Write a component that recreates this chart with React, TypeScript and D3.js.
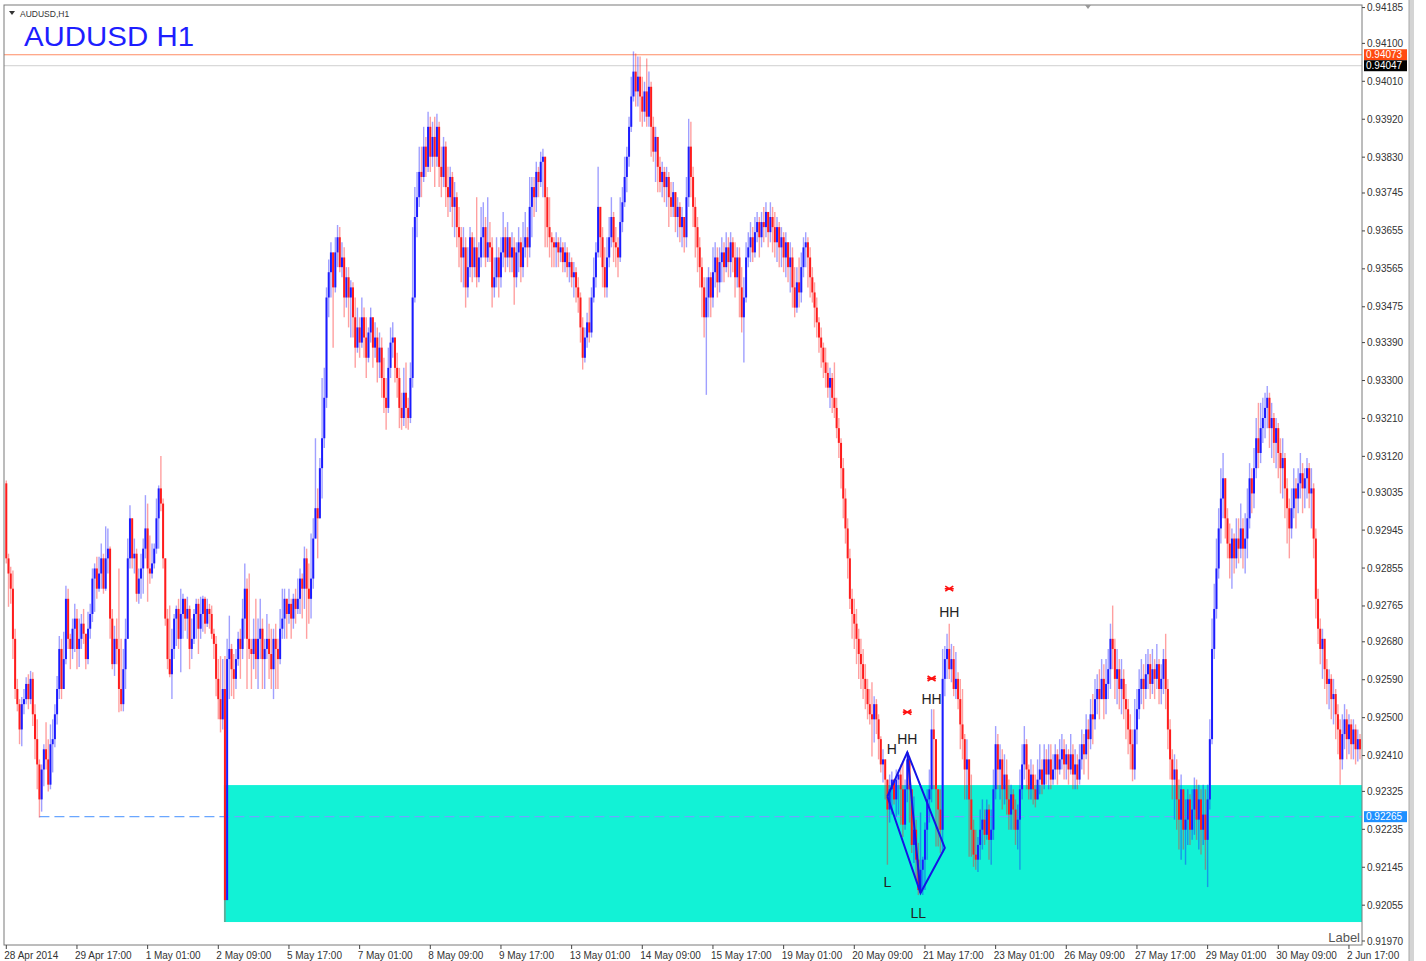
import React from "react";
import * as d3 from "d3";

// ---- data (AUDUSD H1, 28 Apr 2014 09:00 .. 2 Jun 2014) ----
const firstOpen = 0.93056;
const closes = [
0.92878,0.92842,0.92806,0.92687,0.92568,0.92532,0.92472,0.92532,0.92544,0.92580,
0.92544,0.92592,0.92508,0.92449,0.92389,0.92306,0.92377,0.92425,0.92401,0.92341,
0.92437,0.92449,0.92508,0.92568,0.92663,0.92568,0.92639,0.92782,0.92687,0.92663,
0.92711,0.92735,0.92663,0.92687,0.92723,0.92699,0.92639,0.92711,0.92746,0.92830,
0.92854,0.92806,0.92842,0.92878,0.92806,0.92878,0.92901,0.92735,0.92627,0.92687,
0.92663,0.92568,0.92532,0.92615,0.92687,0.92878,0.92973,0.92878,0.92889,0.92794,
0.92830,0.92854,0.92901,0.92949,0.92854,0.92842,0.92866,0.92901,0.92973,0.93044,
0.93008,0.92878,0.92735,0.92639,0.92603,0.92663,0.92735,0.92758,0.92687,0.92746,
0.92782,0.92735,0.92758,0.92663,0.92687,0.92746,0.92770,0.92711,0.92746,0.92782,
0.92723,0.92758,0.92746,0.92699,0.92675,0.92592,0.92544,0.92496,0.92568,0.92067,
0.92639,0.92663,0.92615,0.92592,0.92639,0.92687,0.92663,0.92735,0.92806,0.92687,
0.92663,0.92651,0.92687,0.92639,0.92687,0.92711,0.92639,0.92663,0.92687,0.92651,
0.92615,0.92687,0.92663,0.92639,0.92711,0.92735,0.92782,0.92746,0.92770,0.92735,
0.92782,0.92758,0.92782,0.92830,0.92806,0.92878,0.92806,0.92782,0.92830,0.92925,
0.92997,0.92973,0.93092,0.93163,0.93259,0.93497,0.93557,0.93604,0.93521,0.93604,
0.93640,0.93569,0.93592,0.93497,0.93545,0.93497,0.93521,0.93450,0.93378,0.93426,
0.93390,0.93450,0.93402,0.93354,0.93414,0.93450,0.93378,0.93402,0.93343,0.93378,
0.93306,0.93259,0.93235,0.93330,0.93390,0.93402,0.93330,0.93306,0.93235,0.93211,
0.93271,0.93235,0.93211,0.93306,0.93497,0.93688,0.93735,0.93795,0.93783,0.93855,
0.93807,0.93902,0.93831,0.93878,0.93831,0.93902,0.93807,0.93783,0.93855,0.93759,
0.93735,0.93783,0.93712,0.93735,0.93664,0.93640,0.93592,0.93616,0.93521,0.93569,
0.93640,0.93569,0.93616,0.93545,0.93592,0.93640,0.93664,0.93592,0.93628,0.93616,
0.93521,0.93545,0.93592,0.93545,0.93604,0.93640,0.93592,0.93640,0.93592,0.93616,
0.93545,0.93604,0.93628,0.93569,0.93616,0.93640,0.93616,0.93712,0.93759,0.93735,
0.93795,0.93771,0.93819,0.93831,0.93735,0.93664,0.93640,0.93628,0.93616,0.93628,
0.93604,0.93616,0.93581,0.93604,0.93569,0.93581,0.93545,0.93557,0.93521,0.93497,
0.93426,0.93354,0.93402,0.93438,0.93414,0.93497,0.93545,0.93604,0.93712,0.93640,
0.93569,0.93521,0.93592,0.93640,0.93688,0.93628,0.93616,0.93592,0.93676,0.93723,
0.93783,0.93831,0.93902,0.93974,0.94033,0.93986,0.94021,0.93974,0.93938,0.93986,
0.93926,0.93997,0.93902,0.93843,0.93878,0.93807,0.93771,0.93795,0.93759,0.93783,
0.93735,0.93712,0.93747,0.93688,0.93712,0.93664,0.93688,0.93640,0.93735,0.93855,
0.93783,0.93712,0.93664,0.93616,0.93569,0.93521,0.93450,0.93497,0.93545,0.93497,
0.93557,0.93592,0.93533,0.93581,0.93604,0.93569,0.93616,0.93581,0.93628,0.93592,
0.93545,0.93592,0.93521,0.93450,0.93497,0.93592,0.93616,0.93640,0.93604,0.93652,
0.93676,0.93640,0.93676,0.93664,0.93700,0.93652,0.93688,0.93664,0.93628,0.93664,
0.93616,0.93640,0.93592,0.93628,0.93569,0.93592,0.93521,0.93473,0.93533,0.93509,
0.93569,0.93616,0.93628,0.93592,0.93545,0.93509,0.93473,0.93438,0.93402,0.93378,
0.93343,0.93318,0.93283,0.93306,0.93259,0.93235,0.93187,0.93152,0.93092,0.93020,
0.92949,0.92878,0.92782,0.92746,0.92723,0.92687,0.92651,0.92627,0.92592,0.92568,
0.92532,0.92508,0.92496,0.92532,0.92496,0.92449,0.92389,0.92401,0.92353,0.92282,
0.92330,0.92353,0.92306,0.92353,0.92365,0.92330,0.92246,0.92330,0.92401,0.92330,
0.92198,0.92234,0.92163,0.92091,0.92139,0.92163,0.92234,0.92306,0.92330,0.92472,
0.92449,0.92330,0.92282,0.92234,0.92592,0.92639,0.92663,0.92615,0.92639,0.92568,
0.92592,0.92544,0.92484,0.92449,0.92377,0.92401,0.92306,0.92234,0.92175,0.92163,
0.92198,0.92234,0.92258,0.92222,0.92282,0.92210,0.92234,0.92330,0.92437,0.92377,
0.92401,0.92330,0.92365,0.92306,0.92270,0.92318,0.92282,0.92234,0.92258,0.92330,
0.92389,0.92437,0.92377,0.92330,0.92365,0.92330,0.92306,0.92353,0.92377,0.92341,
0.92401,0.92365,0.92401,0.92353,0.92377,0.92413,0.92377,0.92401,0.92425,0.92389,
0.92413,0.92377,0.92413,0.92365,0.92389,0.92353,0.92401,0.92437,0.92413,0.92472,
0.92449,0.92508,0.92496,0.92544,0.92568,0.92544,0.92592,0.92544,0.92580,0.92615,
0.92687,0.92663,0.92592,0.92615,0.92568,0.92592,0.92544,0.92520,0.92472,0.92437,
0.92377,0.92472,0.92520,0.92568,0.92592,0.92568,0.92603,0.92627,0.92580,0.92615,
0.92592,0.92627,0.92568,0.92592,0.92639,0.92568,0.92472,0.92401,0.92353,0.92377,
0.92306,0.92258,0.92330,0.92234,0.92258,0.92306,0.92234,0.92282,0.92330,0.92258,
0.92306,0.92234,0.92270,0.92210,0.92306,0.92449,0.92663,0.92758,0.92854,0.92949,
0.93020,0.93068,0.92973,0.92913,0.92878,0.92925,0.92878,0.92925,0.92901,0.92949,
0.92901,0.92925,0.92973,0.93068,0.93032,0.93092,0.93163,0.93128,0.93187,0.93211,
0.93235,0.93259,0.93187,0.93211,0.93152,0.93187,0.93128,0.93092,0.93116,0.93044,
0.92997,0.92949,0.92997,0.93044,0.93020,0.93056,0.93080,0.93044,0.93068,0.93092,
0.93032,0.93044,0.92925,0.92782,0.92711,0.92663,0.92687,0.92615,0.92580,0.92592,
0.92544,0.92556,0.92508,0.92472,0.92401,0.92461,0.92496,0.92449,0.92484,0.92437,
0.92472,0.92425,0.92449,0.92425
];
const highs = [
0.93063,0.92889,0.92858,0.92849,0.92711,0.92592,0.92544,0.92549,0.92568,0.92596,
0.92603,0.92611,0.92608,0.92532,0.92496,0.92401,0.92389,0.92437,0.92489,0.92449,
0.92484,0.92496,0.92532,0.92599,0.92694,0.92687,0.92704,0.92813,0.92806,0.92699,
0.92735,0.92770,0.92758,0.92735,0.92746,0.92758,0.92692,0.92751,0.92770,0.92854,
0.92866,0.92882,0.92882,0.92913,0.92889,0.92954,0.92949,0.92906,0.92758,0.92718,
0.92735,0.92854,0.92687,0.92663,0.92735,0.92925,0.93004,0.92954,0.92925,0.92901,
0.92854,0.92889,0.92925,0.93028,0.93008,0.92932,0.92913,0.92913,0.93020,0.93051,
0.93121,0.93020,0.92878,0.92758,0.92766,0.92711,0.92746,0.92766,0.92782,0.92806,
0.92794,0.92782,0.92787,0.92766,0.92735,0.92758,0.92782,0.92782,0.92787,0.92789,
0.92787,0.92782,0.92770,0.92766,0.92711,0.92694,0.92639,0.92646,0.92639,0.92646,
0.92687,0.92742,0.92675,0.92651,0.92663,0.92704,0.92711,0.92782,0.92866,0.92830,
0.92842,0.92687,0.92735,0.92782,0.92735,0.92782,0.92735,0.92687,0.92746,0.92723,
0.92711,0.92711,0.92723,0.92687,0.92758,0.92806,0.92806,0.92782,0.92806,0.92782,
0.92794,0.92806,0.92830,0.92854,0.92842,0.92906,0.92901,0.92866,0.92937,0.92973,
0.93163,0.93044,0.93116,0.93306,0.93330,0.93521,0.93587,0.93628,0.93604,0.93640,
0.93669,0.93664,0.93628,0.93616,0.93569,0.93569,0.93538,0.93533,0.93497,0.93473,
0.93450,0.93497,0.93473,0.93450,0.93426,0.93473,0.93450,0.93438,0.93426,0.93414,
0.93402,0.93354,0.93306,0.93378,0.93426,0.93438,0.93402,0.93366,0.93330,0.93271,
0.93330,0.93343,0.93259,0.93343,0.93664,0.93759,0.93795,0.93855,0.93855,0.93902,
0.93878,0.93938,0.93926,0.93914,0.93926,0.93933,0.93914,0.93855,0.93878,0.93867,
0.93807,0.93807,0.93795,0.93771,0.93747,0.93712,0.93664,0.93664,0.93640,0.93616,
0.93664,0.93652,0.93640,0.93735,0.93628,0.93712,0.93723,0.93688,0.93735,0.93676,
0.93640,0.93592,0.93640,0.93616,0.93640,0.93700,0.93664,0.93676,0.93640,0.93652,
0.93640,0.93628,0.93664,0.93640,0.93676,0.93700,0.93664,0.93783,0.93783,0.93783,
0.93819,0.93807,0.93843,0.93850,0.93819,0.93759,0.93735,0.93652,0.93640,0.93652,
0.93640,0.93640,0.93628,0.93628,0.93616,0.93604,0.93592,0.93581,0.93569,0.93545,
0.93509,0.93450,0.93426,0.93461,0.93497,0.93521,0.93592,0.93628,0.93807,0.93712,
0.93664,0.93616,0.93640,0.93688,0.93735,0.93700,0.93664,0.93640,0.93735,0.93759,
0.93831,0.93855,0.93926,0.94021,0.94081,0.94076,0.94069,0.94069,0.94021,0.94009,
0.94064,0.94033,0.94009,0.93926,0.93902,0.93878,0.93831,0.93819,0.93807,0.93807,
0.93795,0.93771,0.93771,0.93747,0.93735,0.93723,0.93712,0.93676,0.93783,0.93921,
0.93914,0.93807,0.93735,0.93688,0.93640,0.93592,0.93545,0.93545,0.93569,0.93557,
0.93616,0.93628,0.93616,0.93616,0.93640,0.93628,0.93652,0.93640,0.93652,0.93640,
0.93628,0.93616,0.93616,0.93569,0.93545,0.93628,0.93652,0.93676,0.93664,0.93688,
0.93700,0.93688,0.93700,0.93712,0.93723,0.93700,0.93723,0.93712,0.93700,0.93688,
0.93676,0.93664,0.93652,0.93652,0.93628,0.93628,0.93616,0.93569,0.93569,0.93592,
0.93604,0.93640,0.93652,0.93640,0.93616,0.93569,0.93533,0.93497,0.93450,0.93426,
0.93390,0.93378,0.93343,0.93330,0.93318,0.93343,0.93259,0.93211,0.93163,0.93116,
0.93044,0.92973,0.92901,0.92806,0.92782,0.92758,0.92711,0.92687,0.92663,0.92627,
0.92592,0.92568,0.92584,0.92551,0.92544,0.92508,0.92456,0.92425,0.92401,0.92337,
0.92365,0.92372,0.92353,0.92377,0.92377,0.92389,0.92394,0.92353,0.92418,0.92408,
0.92299,0.92313,0.92258,0.92203,0.92275,0.92170,0.92251,0.92330,0.92377,0.92520,
0.92520,0.92418,0.92330,0.92330,0.92663,0.92670,0.92699,0.92723,0.92675,0.92670,
0.92656,0.92608,0.92592,0.92568,0.92461,0.92449,0.92401,0.92365,0.92258,0.92234,
0.92217,0.92282,0.92306,0.92282,0.92306,0.92294,0.92282,0.92377,0.92480,0.92461,
0.92437,0.92425,0.92413,0.92401,0.92353,0.92341,0.92330,0.92306,0.92294,0.92377,
0.92437,0.92480,0.92449,0.92389,0.92401,0.92389,0.92365,0.92401,0.92437,0.92401,
0.92437,0.92425,0.92437,0.92437,0.92413,0.92437,0.92425,0.92449,0.92461,0.92449,
0.92437,0.92425,0.92461,0.92437,0.92425,0.92413,0.92437,0.92472,0.92461,0.92508,
0.92496,0.92544,0.92556,0.92592,0.92603,0.92615,0.92639,0.92627,0.92639,0.92663,
0.92723,0.92766,0.92687,0.92663,0.92639,0.92639,0.92615,0.92580,0.92544,0.92508,
0.92472,0.92544,0.92568,0.92615,0.92639,0.92627,0.92651,0.92663,0.92651,0.92663,
0.92639,0.92675,0.92639,0.92627,0.92663,0.92699,0.92592,0.92496,0.92425,0.92413,
0.92401,0.92353,0.92365,0.92330,0.92306,0.92330,0.92318,0.92330,0.92358,0.92353,
0.92341,0.92330,0.92341,0.92330,0.92341,0.92496,0.92735,0.92818,0.92925,0.92997,
0.93092,0.93128,0.93068,0.92997,0.92961,0.92949,0.92937,0.92973,0.92973,0.93008,
0.92973,0.92985,0.93044,0.93104,0.93092,0.93140,0.93211,0.93247,0.93247,0.93259,
0.93271,0.93287,0.93271,0.93247,0.93223,0.93211,0.93199,0.93163,0.93163,0.93128,
0.93068,0.93020,0.93044,0.93092,0.93068,0.93092,0.93128,0.93104,0.93092,0.93116,
0.93104,0.93092,0.93056,0.92949,0.92806,0.92735,0.92711,0.92687,0.92639,0.92615,
0.92603,0.92592,0.92568,0.92532,0.92496,0.92508,0.92532,0.92520,0.92508,0.92496,
0.92496,0.92484,0.92472,0.92461
];
const lows = [
0.92866,0.92763,0.92770,0.92639,0.92544,0.92515,0.92437,0.92432,0.92508,0.92532,
0.92520,0.92532,0.92480,0.92401,0.92330,0.92263,0.92277,0.92337,0.92377,0.92325,
0.92330,0.92370,0.92430,0.92484,0.92544,0.92544,0.92572,0.92627,0.92663,0.92615,
0.92639,0.92656,0.92615,0.92620,0.92663,0.92675,0.92615,0.92627,0.92687,0.92727,
0.92751,0.92782,0.92799,0.92806,0.92794,0.92801,0.92842,0.92687,0.92615,0.92599,
0.92627,0.92513,0.92515,0.92515,0.92568,0.92687,0.92854,0.92854,0.92842,0.92775,
0.92770,0.92782,0.92794,0.92878,0.92775,0.92818,0.92830,0.92854,0.92889,0.92901,
0.92990,0.92854,0.92718,0.92615,0.92596,0.92544,0.92639,0.92670,0.92663,0.92608,
0.92687,0.92706,0.92687,0.92615,0.92639,0.92675,0.92687,0.92651,0.92687,0.92704,
0.92699,0.92715,0.92711,0.92687,0.92639,0.92551,0.92496,0.92465,0.92472,0.92015,
0.92115,0.92544,0.92551,0.92544,0.92568,0.92623,0.92592,0.92639,0.92687,0.92568,
0.92639,0.92568,0.92615,0.92592,0.92568,0.92639,0.92568,0.92568,0.92639,0.92592,
0.92568,0.92544,0.92568,0.92568,0.92627,0.92687,0.92687,0.92687,0.92723,0.92687,
0.92711,0.92723,0.92746,0.92746,0.92735,0.92758,0.92687,0.92723,0.92735,0.92806,
0.92925,0.92878,0.92973,0.93020,0.93140,0.93235,0.93450,0.93497,0.93378,0.93509,
0.93569,0.93557,0.93545,0.93450,0.93473,0.93426,0.93402,0.93402,0.93330,0.93366,
0.93354,0.93378,0.93354,0.93306,0.93343,0.93390,0.93330,0.93354,0.93295,0.93306,
0.93259,0.93223,0.93183,0.93223,0.93306,0.93354,0.93295,0.93259,0.93187,0.93183,
0.93192,0.93187,0.93183,0.93199,0.93283,0.93485,0.93640,0.93712,0.93735,0.93771,
0.93783,0.93795,0.93795,0.93807,0.93759,0.93807,0.93759,0.93735,0.93759,0.93712,
0.93688,0.93700,0.93664,0.93640,0.93616,0.93569,0.93533,0.93521,0.93473,0.93497,
0.93545,0.93533,0.93545,0.93521,0.93533,0.93569,0.93592,0.93569,0.93581,0.93581,
0.93473,0.93497,0.93521,0.93497,0.93521,0.93569,0.93557,0.93569,0.93557,0.93557,
0.93480,0.93521,0.93557,0.93533,0.93545,0.93592,0.93569,0.93592,0.93640,0.93688,
0.93700,0.93735,0.93759,0.93735,0.93616,0.93616,0.93592,0.93569,0.93569,0.93569,
0.93569,0.93581,0.93557,0.93557,0.93545,0.93533,0.93521,0.93497,0.93485,0.93461,
0.93390,0.93326,0.93343,0.93378,0.93390,0.93402,0.93485,0.93521,0.93592,0.93592,
0.93521,0.93497,0.93497,0.93569,0.93616,0.93581,0.93569,0.93545,0.93581,0.93652,
0.93712,0.93747,0.93807,0.93890,0.93962,0.93950,0.93950,0.93914,0.93902,0.93914,
0.93902,0.93902,0.93831,0.93819,0.93771,0.93747,0.93747,0.93735,0.93723,0.93712,
0.93664,0.93688,0.93688,0.93652,0.93640,0.93628,0.93616,0.93604,0.93616,0.93712,
0.93735,0.93664,0.93592,0.93557,0.93521,0.93450,0.93402,0.93266,0.93450,0.93450,
0.93473,0.93521,0.93497,0.93509,0.93533,0.93533,0.93557,0.93545,0.93545,0.93557,
0.93497,0.93521,0.93450,0.93414,0.93343,0.93485,0.93569,0.93581,0.93581,0.93592,
0.93628,0.93592,0.93616,0.93628,0.93640,0.93616,0.93628,0.93604,0.93592,0.93581,
0.93569,0.93569,0.93557,0.93545,0.93533,0.93509,0.93473,0.93450,0.93461,0.93473,
0.93485,0.93545,0.93569,0.93521,0.93497,0.93485,0.93426,0.93402,0.93366,0.93330,
0.93306,0.93283,0.93259,0.93235,0.93223,0.93211,0.93163,0.93116,0.93044,0.92973,
0.92913,0.92830,0.92758,0.92687,0.92663,0.92627,0.92592,0.92568,0.92544,0.92520,
0.92496,0.92484,0.92408,0.92441,0.92461,0.92401,0.92370,0.92346,0.92306,0.92151,
0.92251,0.92270,0.92294,0.92265,0.92270,0.92246,0.92217,0.92234,0.92299,0.92251,
0.92179,0.92155,0.92115,0.92079,0.92098,0.92079,0.92091,0.92163,0.92251,0.92299,
0.92330,0.92194,0.92194,0.92179,0.92179,0.92551,0.92592,0.92592,0.92584,0.92551,
0.92544,0.92520,0.92425,0.92401,0.92306,0.92306,0.92170,0.92170,0.92146,0.92139,
0.92134,0.92163,0.92187,0.92198,0.92210,0.92163,0.92151,0.92210,0.92306,0.92330,
0.92306,0.92282,0.92294,0.92270,0.92234,0.92234,0.92234,0.92198,0.92187,0.92139,
0.92306,0.92353,0.92330,0.92306,0.92306,0.92294,0.92287,0.92306,0.92318,0.92318,
0.92330,0.92341,0.92330,0.92330,0.92341,0.92353,0.92341,0.92365,0.92377,0.92353,
0.92353,0.92341,0.92365,0.92330,0.92330,0.92330,0.92341,0.92377,0.92365,0.92401,
0.92353,0.92425,0.92437,0.92472,0.92508,0.92496,0.92544,0.92496,0.92508,0.92544,
0.92568,0.92615,0.92544,0.92532,0.92520,0.92508,0.92496,0.92449,0.92413,0.92377,
0.92349,0.92353,0.92437,0.92496,0.92532,0.92520,0.92544,0.92568,0.92544,0.92556,
0.92544,0.92568,0.92532,0.92532,0.92556,0.92520,0.92425,0.92353,0.92306,0.92258,
0.92234,0.92187,0.92163,0.92187,0.92151,0.92198,0.92198,0.92210,0.92222,0.92210,
0.92187,0.92175,0.92198,0.92139,0.92098,0.92282,0.92437,0.92639,0.92735,0.92830,
0.92913,0.92973,0.92925,0.92878,0.92830,0.92806,0.92842,0.92854,0.92866,0.92878,
0.92854,0.92842,0.92878,0.92949,0.92985,0.92997,0.93068,0.93092,0.93104,0.93152,
0.93163,0.93187,0.93140,0.93116,0.93104,0.93092,0.93068,0.93032,0.93020,0.92973,
0.92913,0.92878,0.92925,0.92973,0.92949,0.92985,0.93020,0.92985,0.92997,0.93020,
0.92997,0.92949,0.92878,0.92735,0.92675,0.92627,0.92592,0.92568,0.92532,0.92520,
0.92496,0.92484,0.92449,0.92413,0.92341,0.92377,0.92425,0.92401,0.92413,0.92401,
0.92401,0.92389,0.92396,0.92401
];

const timeLabels = [
  "28 Apr 2014", "29 Apr 17:00", "1 May 01:00", "2 May 09:00", "5 May 17:00",
  "7 May 01:00", "8 May 09:00", "9 May 17:00", "13 May 01:00", "14 May 09:00",
  "15 May 17:00", "19 May 01:00", "20 May 09:00", "21 May 17:00", "23 May 01:00",
  "26 May 09:00", "27 May 17:00", "29 May 01:00", "30 May 09:00", "2 Jun 17:00",
];
const timeLabelBars = [0, 32, 64, 96, 128, 160, 192, 224, 256, 288, 320, 352, 384, 416, 448, 480, 512, 544, 576, 608];

const priceTicks = [
  0.94185, 0.941, 0.9401, 0.9392, 0.9383, 0.93745, 0.93655, 0.93565, 0.93475,
  0.9339, 0.933, 0.9321, 0.9312, 0.93035, 0.92945, 0.92855, 0.92765, 0.9268,
  0.9259, 0.925, 0.9241, 0.92325, 0.92235, 0.92145, 0.92055, 0.9197,
];

const askLevel = 0.94073;
const bidLevel = 0.94047;
const rayLevel = 0.92265;
const rayFromBar = 15;
const zoneFromBar = 99;
const zoneTop = 0.9234;
const zoneBottom = 0.92015;

// diamond pattern vertices [bar, price]
const diamond: [number, number][] = [
  [399, 0.92313], [408, 0.92418], [425, 0.92191], [414, 0.92084],
];
const patternLabels = [
  { text: "L", bar: 399, price: 0.92098 },
  { text: "H", bar: 401, price: 0.92413 },
  { text: "HH", bar: 408, price: 0.92437 },
  { text: "HH", bar: 419, price: 0.92532 },
  { text: "HH", bar: 427, price: 0.92739 },
  { text: "LL", bar: 413, price: 0.92024 },
];
const fractalMarks: [number, number][] = [
  [408, 0.92513], [419, 0.92593], [427, 0.92806],
];

export default function App() {
  const W = 1426, H = 961;
  const plotL = 4, plotR = 1362, plotT = 5, plotB = 945;
  const n = closes.length;
  const x = d3.scaleLinear().domain([0, n - 1]).range([6.3, 1360]);
  const y = d3.scaleLinear().domain([0.9197, 0.94188]).range([941, 6.3]);

  const bars = closes.map((c, i) => {
    const o = i === 0 ? firstOpen : closes[i - 1];
    return { o, c, h: Math.max(highs[i], o, c), l: Math.min(lows[i], o, c) };
  });

  const blue = "#1c1cff";
  const red = "#ff1c1c";
  const font = "'Liberation Sans', Arial, sans-serif";

  const lineGen = d3.line<[number, number]>().x((d) => x(d[0])).y((d) => y(d[1]));
  const [A, B, C, D] = diamond;

  return (
    <svg width={W} height={H} style={{ position: "absolute", left: 0, top: 0, background: "#fff" }}>
      <rect x={0} y={0} width={W} height={H} fill="#fff" />
      {/* zone */}
      <rect x={x(zoneFromBar) - 1} y={y(zoneTop)} width={plotR - x(zoneFromBar) + 1} height={y(zoneBottom) - y(zoneTop)} fill="#12f2d6" />
      {/* level lines */}
      <line x1={plotL} x2={plotR} y1={y(askLevel)} y2={y(askLevel)} stroke="#ff8c64" strokeWidth={1} />
      <line x1={plotL} x2={plotR} y1={y(bidLevel)} y2={y(bidLevel)} stroke="#cfcfcf" strokeWidth={1} />
      <line x1={x(rayFromBar)} x2={plotR} y1={y(rayLevel)} y2={y(rayLevel)} stroke="#6aa6ff" strokeWidth={1.3} strokeDasharray="10,5" />
      {/* candles */}
      <g>
        {bars.map((b, i) => {
          const col = b.c >= b.o ? blue : red;
          const cx = x(i);
          const yt = y(Math.max(b.o, b.c));
          const yb = y(Math.min(b.o, b.c));
          return (
            <g key={i}>
              <line x1={cx} x2={cx} y1={y(b.h)} y2={y(b.l)} stroke={col} strokeOpacity={0.42} strokeWidth={1.4} />
              <rect x={cx - 1} y={yt} width={2} height={Math.max(1, yb - yt)} fill={col} />
            </g>
          );
        })}
      </g>
      {/* diamond pattern */}
      <g fill="none" stroke="#1414e6" strokeWidth={2}>
        <path d={lineGen([A, B, C, D, A]) || ""} />
        <path d={lineGen([B, D]) || ""} />
      </g>
      {patternLabels.map((p, i) => (
        <text key={i} x={x(p.bar)} y={y(p.price)} textAnchor="middle" fontFamily={font} fontSize={14} fill="#222">{p.text}</text>
      ))}
      {fractalMarks.map((m, i) => (
        <path key={i} transform={`translate(${x(m[0])},${y(m[1])})`} d="M-4,-2.5L4,2.5M-4,2.5L4,-2.5M-4.5,0L4.5,0" stroke="#ff1010" strokeWidth={1.6} fill="none" />
      ))}
      {/* frame */}
      <rect x={plotL} y={plotT} width={plotR - plotL} height={plotB - plotT} fill="none" stroke="#7a7a7a" strokeWidth={1} />
      <path d="M1085,5 L1091,5 L1088,9 Z" fill="#999" />
      {/* titles */}
      <path d="M9,11 L15,11 L12,15 Z" fill="#333" />
      <text x={20} y={17} fontFamily={font} fontSize={8.5} fill="#333">AUDUSD,H1</text>
      <text x={24} y={46} fontFamily={font} fontSize={28} fill="#1e1eff" textLength={170} lengthAdjust="spacingAndGlyphs">AUDUSD H1</text>
      <text x={1360} y={942} textAnchor="end" fontFamily={font} fontSize={13} fill="#555">Label</text>
      {/* price axis */}
      {priceTicks.map((p, i) => (
        <g key={i}>
          <line x1={plotR} x2={plotR + 3} y1={y(p)} y2={y(p)} stroke="#444" />
          <text x={1367} y={y(p) + 3.5} fontFamily={font} fontSize={10} fill="#333">{p.toFixed(5)}</text>
        </g>
      ))}
      {[
        { v: askLevel, bg: "#ff4a10" },
        { v: bidLevel, bg: "#000" },
        { v: rayLevel, bg: "#1e90ff" },
      ].map((l, i) => (
        <g key={i}>
          <rect x={1364} y={y(l.v) - 5.5} width={43} height={11} fill={l.bg} />
          <text x={1366} y={y(l.v) + 3.5} fontFamily={font} fontSize={10} fill="#fff">{l.v.toFixed(5)}</text>
        </g>
      ))}
      {/* time axis */}
      {timeLabelBars.map((b, i) => (
        <g key={i}>
          <line x1={x(b)} x2={x(b)} y1={plotB} y2={plotB + 4} stroke="#444" />
          <text x={x(b) - 2} y={959} fontFamily={font} fontSize={10} fill="#333">{timeLabels[i]}</text>
        </g>
      ))}
      {/* right window edge */}
      <rect x={1409} y={0} width={5} height={H} fill="#d4d4d4" />
      <line x1={1409} x2={1409} y1={0} y2={H} stroke="#a8a8a8" />
    </svg>
  );
}
